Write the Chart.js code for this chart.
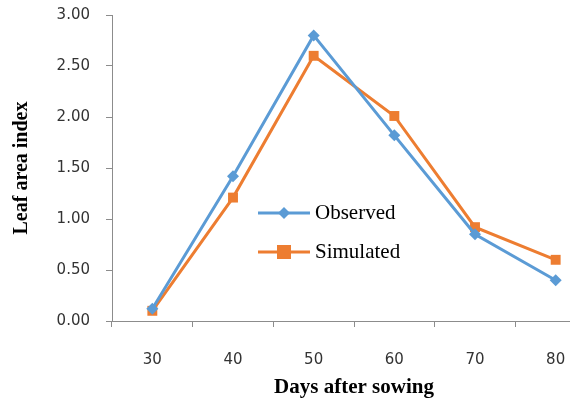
<!DOCTYPE html>
<html>
<head>
<meta charset="utf-8">
<script src="https://cdn.jsdelivr.net/npm/chart.js@4.4.0/dist/chart.umd.min.js"></script>
<style>
html,body{margin:0;padding:0;background:#fff;}
#wrap{width:570px;height:400px;position:relative;}
</style>
</head>
<body>
<div id="wrap"><canvas id="c" width="570" height="400"></canvas></div>
<script>
const days = ['30', '40', '50', '60', '70', '80'];
const observed = [0.12, 1.42, 2.80, 1.82, 0.85, 0.40];
const simulated = [0.10, 1.21, 2.60, 2.01, 0.92, 0.60];
const yTicks = [0, 0.5, 1, 1.5, 2, 2.5, 3];

const blue = '#5B9BD5';
const orange = '#ED7D31';
const axisGray = '#8c8c8c';
const textColor = '#333333';

// The original figure is cropped on the right: the x axis runs past the picture edge.
const stretchX = {
  id: 'stretchX',
  afterLayout(chart) {
    const x = chart.scales.x;
    x.right = x.left + 484;
    x.width = 484;
    x.configure();
  }
};

const insideLegend = {
  id: 'insideLegend',
  afterDraw(chart) {
    const ctx = chart.ctx;
    const x0 = 258, x1 = 310, ys = [213, 252];
    chart.data.datasets.forEach((ds, i) => {
      const y = ys[i];
      ctx.save();
      ctx.strokeStyle = ds.borderColor;
      ctx.lineWidth = 3;
      ctx.beginPath();
      ctx.moveTo(x0, y);
      ctx.lineTo(x1, y);
      ctx.stroke();
      const cx = (x0 + x1) / 2;
      ctx.fillStyle = ds.backgroundColor;
      if (ds.pointStyle === 'rect') {
        const s = ds.pointRadius;
        ctx.fillRect(cx - s, y - s, 2 * s, 2 * s);
      } else {
        const r = ds.pointRadius;
        ctx.beginPath();
        ctx.moveTo(cx, y - r); ctx.lineTo(cx + r, y); ctx.lineTo(cx, y + r); ctx.lineTo(cx - r, y);
        ctx.closePath(); ctx.fill();
      }
      ctx.fillStyle = '#000';
      ctx.font = '21px "Liberation Serif", "Times New Roman", serif';
      ctx.textBaseline = 'middle';
      ctx.textAlign = 'left';
      ctx.fillText(ds.label, x1 + 5, y);
      ctx.restore();
    });
  }
};

new Chart(document.getElementById('c'), {
  type: 'line',
  data: {
    labels: days,
    datasets: [
      {
        label: 'Observed',
        data: observed,
        borderColor: blue,
        backgroundColor: blue,
        borderWidth: 3,
        pointStyle: 'rectRot',
        pointRadius: 6,
        pointBorderWidth: 0,
        tension: 0,
        clip: false
      },
      {
        label: 'Simulated',
        data: simulated,
        borderColor: orange,
        backgroundColor: orange,
        borderWidth: 3,
        pointStyle: 'rect',
        pointRadius: 7,
        pointBorderWidth: 0,
        tension: 0,
        clip: false
      }
    ]
  },
  options: {
    responsive: false,
    animation: false,
    devicePixelRatio: 1,
    layout: { autoPadding: false, padding: { left: 0, top: 15, right: 2, bottom: 0 } },
    plugins: { legend: { display: false }, tooltip: { enabled: false } },
    scales: {
      x: {
        offset: true,
        grid: { offset: true, drawOnChartArea: false, drawTicks: true, tickLength: 6, color: axisGray },
        border: { color: axisGray, width: 1 },
        ticks: { color: textColor, font: { family: '"DejaVu Sans", Verdana, sans-serif', size: 15 }, padding: 24, maxRotation: 0 },
        title: { display: true, text: 'Days after sowing', color: '#000', font: { family: '"Liberation Serif", "Times New Roman", serif', size: 21, weight: 'bold' }, padding: { top: 4, bottom: 0 } },
        afterFit(scale) { scale.height = 79; scale.paddingLeft = 0; scale.paddingRight = 0; }
      },
      y: {
        min: 0,
        max: 3,
        afterBuildTicks(scale) { scale.ticks = yTicks.map(v => ({ value: v })); },
        grid: { drawOnChartArea: false, drawTicks: true, tickLength: 6, color: axisGray },
        border: { color: axisGray, width: 1 },
        ticks: { color: textColor, font: { family: '"DejaVu Sans", Verdana, sans-serif', size: 15 }, padding: 16, callback: v => Number(v).toFixed(2) },
        title: { display: true, text: 'Leaf area index', color: '#000', font: { family: '"Liberation Serif", "Times New Roman", serif', size: 20, weight: 'bold' }, padding: { top: 10, bottom: 4 } },
        afterFit(scale) { scale.width = 112; scale.paddingTop = 0; scale.paddingBottom = 0; }
      }
    }
  },
  plugins: [stretchX, insideLegend]
});
</script>
</body>
</html>
